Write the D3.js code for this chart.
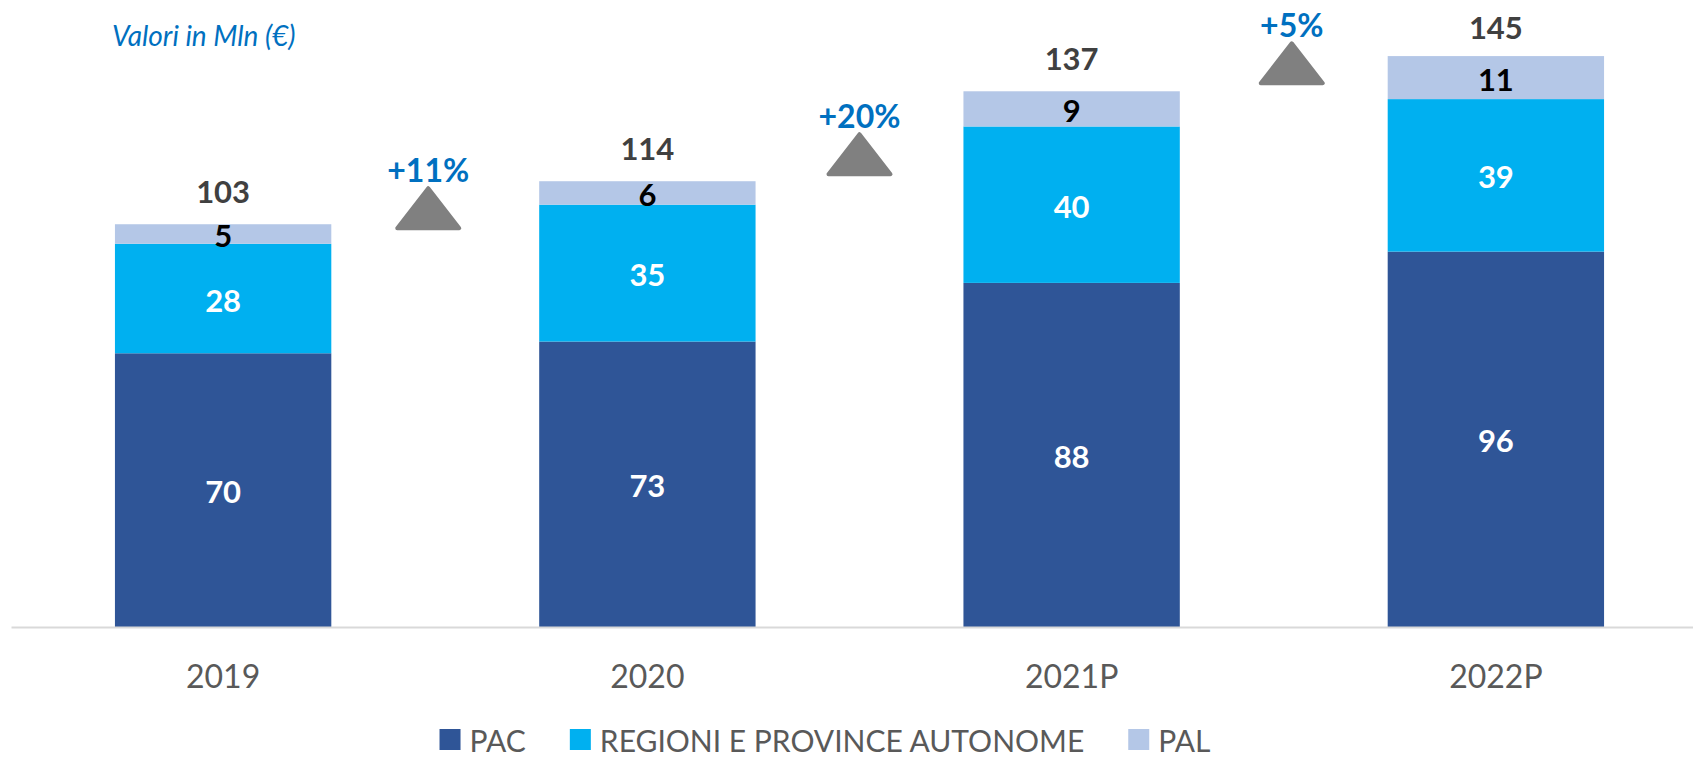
<!doctype html>
<html lang="en">
<head>
<meta charset="utf-8">
<title>Valori in Mln</title>
<style>
body { margin: 0; background: #fff; font-family: Lato, "Open Sans", sans-serif; }
</style>
</head>
<body>
<div id="chart"></div>
<script src="https://cdnjs.cloudflare.com/ajax/libs/d3/7.8.5/d3.min.js"></script>
<script>
var years = ["2019", "2020", "2021P", "2022P"];
var pac = [70, 73, 88, 96];
var regioni = [28, 35, 40, 39];
var pal = [5, 6, 9, 11];
var totals = [103, 114, 137, 145];
var growth = ["+11%", "+20%", "+5%"];
var seriesNames = ["PAC", "REGIONI E PROVINCE AUTONOME", "PAL"];
var colors = ["#2F5597", "#00B0F0", "#B4C7E7"];
var labelColors = ["#fff", "#fff", "#000"];

// small nudges for the growth arrows (px), as placed in the original slide
var arrowShiftX = [-7, 0, 8];
var arrowShiftY = [6, -5, -6];

var width = 1693, height = 760;
var svg = d3.select("#chart").append("svg")
    .attr("width", width).attr("height", height);

var x = d3.scaleBand().domain(years).range([11, 1708])
    .paddingInner(0.49).paddingOuter(0.245);
var y = d3.scaleLinear().domain([0, 145]).range([627, 60]);

var rows = years.map(function(d, i) {
    return { year: d, PAC: pac[i], "REGIONI E PROVINCE AUTONOME": regioni[i], PAL: pal[i] };
});
var stacked = d3.stack().keys(seriesNames)(rows);

// bars
var layers = svg.selectAll(".layer").data(stacked).enter().append("g")
    .attr("fill", function(d, i) { return colors[i]; });
layers.selectAll("rect").data(function(d) { return d; }).enter().append("rect")
    .attr("x", function(d) { return x(d.data.year); })
    .attr("width", x.bandwidth())
    .attr("y", function(d) { return y(d[1]); })
    .attr("height", function(d) { return y(d[0]) - y(d[1]); });

// segment labels
stacked.forEach(function(s, si) {
    svg.append("g").selectAll("text").data(s).enter().append("text")
        .attr("x", function(d) { return x(d.data.year) + x.bandwidth() / 2; })
        .attr("y", function(d) { return (y(d[0]) + y(d[1])) / 2 + 1; })
        .attr("text-anchor", "middle")
        .attr("dominant-baseline", "central")
        .attr("font-weight", "bold")
        .attr("font-size", 31)
        .attr("fill", labelColors[si])
        .text(function(d) { return d.data[s.key]; });
});

// totals
svg.append("g").selectAll("text").data(totals).enter().append("text")
    .attr("x", function(d, i) { return x(years[i]) + x.bandwidth() / 2; })
    .attr("y", function(d) { return y(d) - 21; })
    .attr("text-anchor", "middle")
    .attr("font-weight", "bold")
    .attr("font-size", 31)
    .attr("fill", "#404040")
    .text(function(d) { return d; });

// growth triangles
var g = svg.append("g").selectAll("g").data(growth).enter().append("g")
    .attr("transform", function(d, i) {
        var cx = (x(years[i]) + x(years[i + 1]) + x.bandwidth()) / 2 + arrowShiftX[i];
        return "translate(" + cx + "," + (y(totals[i]) + arrowShiftY[i]) + ")";
    });
g.append("path")
    .attr("d", "M-31,-2 L0,-42 L31,-2 Z")
    .attr("fill", "#808080")
    .attr("stroke", "#808080")
    .attr("stroke-width", 4)
    .attr("stroke-linejoin", "round");
g.append("text")
    .attr("y", -48)
    .attr("text-anchor", "middle")
    .attr("font-weight", "bold")
    .attr("font-size", 32)
    .attr("fill", "#0070C0")
    .text(function(d) { return d; });

// x axis
var axis = svg.append("g").attr("transform", "translate(0,627)")
    .call(d3.axisBottom(x).tickSize(0).tickSizeOuter(0).tickPadding(38));
axis.select(".domain").attr("stroke", "#D9D9D9").attr("stroke-width", 2);
axis.selectAll("text")
    .attr("font-family", "Lato, 'Open Sans', sans-serif")
    .attr("font-size", 32)
    .attr("fill", "#595959");

// unit note
svg.append("text")
    .attr("x", 112).attr("y", 46)
    .attr("font-style", "italic")
    .attr("font-size", 28)
    .attr("fill", "#0070C0")
    .text("Valori in Mln (\u20AC)");

// legend
var legend = svg.append("g");
var lx = 0;
seriesNames.forEach(function(name, i) {
    var item = legend.append("g").attr("transform", "translate(" + lx + ",0)");
    item.append("rect").attr("x", 0).attr("y", -10).attr("width", 21).attr("height", 21)
        .attr("fill", colors[i]);
    var t = item.append("text").attr("x", 30).attr("y", 1)
        .attr("dominant-baseline", "central")
        .attr("font-size", 30)
        .attr("fill", "#595959")
        .text(name);
    lx += 30 + t.node().getComputedTextLength() + 44;
});
var lw = lx - 44;
legend.attr("transform", "translate(" + (825 - lw / 2) + ",739)");
</script>
</body>
</html>
